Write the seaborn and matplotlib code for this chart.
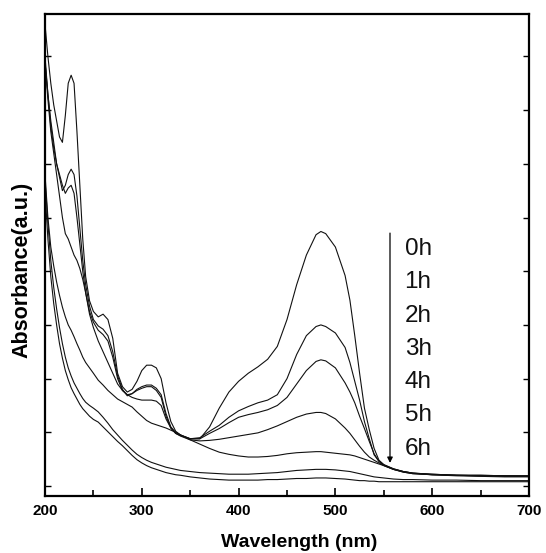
import numpy as np
import pandas as pd
import matplotlib
matplotlib.use("Agg")
import matplotlib.pyplot as plt
from matplotlib.ticker import MultipleLocator
import seaborn as sns

wavelength = [200, 203, 206, 209, 212, 215, 218, 221, 224, 227, 230, 233, 236, 239, 242, 246,
              250, 255, 260, 265, 270, 275, 280, 285, 290, 295, 300, 305, 310, 315, 320, 325,
              330, 335, 340, 350, 360, 370, 380, 390, 400, 410, 420, 430, 440, 450, 460, 470,
              480, 485, 490, 500, 510, 515, 520, 525, 530, 535, 540, 545, 550, 560, 570, 580,
              600, 625, 650, 675, 700]

abs_0h = [8.6, 8.0, 7.5, 7.1, 6.8, 6.5, 6.4, 6.9, 7.5, 7.65, 7.5, 6.6, 5.6, 4.6, 3.9, 3.45,
          3.25, 3.15, 3.2, 3.1, 2.75, 2.1, 1.85, 1.75, 1.8, 1.95, 2.15, 2.25, 2.25, 2.2, 2.0, 1.55,
          1.2, 1.02, 0.95, 0.88, 0.88, 1.1, 1.45, 1.75, 1.95, 2.1, 2.22, 2.36, 2.6, 3.1, 3.75, 4.3,
          4.68, 4.74, 4.7, 4.45, 3.92, 3.46, 2.8, 2.1, 1.45, 1.05, 0.7, 0.48, 0.4, 0.32, 0.27, 0.24,
          0.22, 0.2, 0.2, 0.19, 0.19]
abs_1h = [7.9, 7.3, 6.8, 6.4, 6.0, 5.75, 5.5, 5.6, 5.8, 5.9, 5.8, 5.4, 4.8, 4.2, 3.75, 3.35,
          3.1, 2.98, 2.92, 2.8, 2.5, 2.05, 1.8, 1.68, 1.72, 1.8, 1.85, 1.88, 1.88, 1.82, 1.7, 1.35,
          1.1, 1.0, 0.95, 0.88, 0.9, 1.02, 1.13, 1.28, 1.4, 1.48, 1.55, 1.6, 1.7, 2.0, 2.45, 2.8,
          2.97, 3.0, 2.97, 2.85, 2.58, 2.3, 1.95, 1.6, 1.2, 0.88, 0.58, 0.46, 0.39, 0.32, 0.27, 0.24,
          0.22, 0.2, 0.2, 0.19, 0.19]
abs_2h = [8.0, 7.3, 6.7, 6.3, 6.0, 5.8, 5.6, 5.45, 5.55, 5.6, 5.45, 5.0, 4.5, 4.0, 3.6, 3.25,
          3.05, 2.9, 2.82, 2.7, 2.4, 2.0, 1.78, 1.7, 1.72, 1.78, 1.82, 1.85, 1.85, 1.78, 1.65, 1.3,
          1.08, 0.98, 0.94, 0.88, 0.88, 0.98, 1.07, 1.18, 1.28, 1.33, 1.37, 1.42, 1.5, 1.65, 1.9, 2.15,
          2.32, 2.35, 2.33, 2.2, 1.92, 1.75, 1.55, 1.3, 1.07, 0.83, 0.6, 0.46, 0.39, 0.31, 0.26, 0.23,
          0.21, 0.2, 0.19, 0.19, 0.18]
abs_3h = [7.9, 7.2, 6.6, 6.2, 5.8, 5.4, 5.0, 4.7, 4.6, 4.45, 4.3, 4.2, 4.05, 3.85, 3.6, 3.2,
          2.95, 2.7, 2.5, 2.3, 2.1, 1.9, 1.78, 1.7, 1.65, 1.62, 1.6, 1.6, 1.6, 1.58, 1.5, 1.25,
          1.08, 0.98, 0.93, 0.86, 0.84, 0.85, 0.87, 0.9, 0.93, 0.96, 0.99, 1.05, 1.12, 1.2, 1.28, 1.34,
          1.37, 1.37, 1.35, 1.25, 1.08, 0.98, 0.86, 0.74, 0.63, 0.54, 0.48, 0.43, 0.38, 0.31, 0.26, 0.23,
          0.21, 0.2, 0.19, 0.18, 0.18]
abs_4h = [5.8, 5.0, 4.45, 4.1, 3.8, 3.55, 3.33, 3.15, 3.0, 2.9, 2.78, 2.65, 2.53, 2.4, 2.3, 2.2,
          2.1, 1.97, 1.88, 1.78, 1.7, 1.62, 1.57, 1.52, 1.47, 1.38, 1.3, 1.22, 1.17, 1.14, 1.11, 1.08,
          1.04, 1.0, 0.95, 0.86, 0.78, 0.7, 0.63, 0.59, 0.56, 0.54, 0.54, 0.55, 0.57, 0.6, 0.62, 0.63,
          0.64, 0.64, 0.63, 0.61, 0.59, 0.58, 0.56, 0.53, 0.5, 0.47, 0.44, 0.41, 0.38, 0.31, 0.27, 0.24,
          0.21, 0.19, 0.18, 0.17, 0.17]
abs_5h = [5.7, 4.9, 4.2, 3.7, 3.3, 2.95, 2.65, 2.4, 2.2, 2.05, 1.92, 1.82, 1.72, 1.63, 1.56, 1.5,
          1.45, 1.38, 1.28, 1.17, 1.05, 0.95, 0.85, 0.76, 0.67, 0.59, 0.53, 0.48, 0.44, 0.41, 0.38, 0.35,
          0.33, 0.31, 0.29, 0.27, 0.25, 0.24, 0.23, 0.22, 0.22, 0.22, 0.23, 0.24, 0.25, 0.27, 0.29, 0.3,
          0.31, 0.31, 0.31, 0.3, 0.28, 0.27, 0.25, 0.23, 0.21, 0.19, 0.17, 0.16, 0.15, 0.13, 0.12, 0.12,
          0.11, 0.11, 0.1, 0.1, 0.1]
abs_6h = [5.5, 4.6, 3.9, 3.4, 3.0, 2.65, 2.38, 2.15, 1.98, 1.83, 1.72, 1.62, 1.52, 1.44, 1.38, 1.3,
          1.24, 1.19, 1.1, 1.01, 0.92, 0.83, 0.75, 0.66, 0.57, 0.49, 0.43, 0.38, 0.34, 0.31, 0.28, 0.25,
          0.23, 0.21, 0.2, 0.17, 0.15, 0.13, 0.12, 0.11, 0.11, 0.11, 0.11, 0.12, 0.12, 0.13, 0.14, 0.14,
          0.15, 0.15, 0.15, 0.14, 0.13, 0.12, 0.11, 0.1, 0.1, 0.09, 0.09, 0.08, 0.08, 0.08, 0.08, 0.08,
          0.08, 0.08, 0.08, 0.08, 0.08]

times = ["0h", "1h", "2h", "3h", "4h", "5h", "6h"]
series = [abs_0h, abs_1h, abs_2h, abs_3h, abs_4h, abs_5h, abs_6h]

frames = [pd.DataFrame({"Wavelength": wavelength, "Absorbance": s, "time": t})
          for t, s in zip(times, series)]
df = pd.concat(frames, ignore_index=True)

sns.set_style("ticks")
plt.rcParams["font.family"] = ["Liberation Sans", "DejaVu Sans"]
plt.rcParams["text.color"] = "black"
plt.rcParams["axes.labelcolor"] = "black"
plt.rcParams["xtick.color"] = "black"
plt.rcParams["ytick.color"] = "black"

fig = plt.figure(figsize=(5.46, 5.53), dpi=100)
ax = fig.add_axes([45 / 546, 57 / 553, 484 / 546, 482 / 553])

sns.lineplot(data=df, x="Wavelength", y="Absorbance", hue="time",
             palette=["#111111"] * len(times), linewidth=0.8, legend=False,
             ax=ax, sort=False)

ax.set_xlim(200, 700)
ax.set_ylim(-0.186, 8.79)
ax.xaxis.set_major_locator(MultipleLocator(100))
ax.xaxis.set_minor_locator(MultipleLocator(50))
ax.yaxis.set_major_locator(MultipleLocator(1))
ax.set_yticklabels([])
ax.tick_params(axis="x", which="major", direction="in", length=6, width=1.2,
               labelsize=11, pad=6, top=False, colors="black")
ax.tick_params(axis="x", which="minor", direction="in", length=4, width=1.2, top=False,
               colors="black")
ax.tick_params(axis="y", which="major", direction="in", length=4, width=1.0,
               left=True, right=True, labelleft=False, colors="black")
for lab in ax.get_xticklabels():
    lab.set_fontweight("bold")
for sp in ax.spines.values():
    sp.set_linewidth(1.6)
    sp.set_color("black")
    sp.set_visible(True)

ax.set_xlabel("Wavelength (nm)", fontsize=14, fontweight="bold", color="black")
ax.set_ylabel("Absorbance(a.u.)", fontsize=15.5, fontweight="bold", color="black")
ax.xaxis.set_label_coords(0.525, -0.079)
ax.yaxis.set_label_coords(-0.026, 0.469)

# arrow and time labels
ax.annotate("", xy=(556.4, 0.43), xytext=(556.4, 4.71),
            arrowprops=dict(arrowstyle="-|>", color="black", lw=0.9,
                            mutation_scale=8, shrinkA=0, shrinkB=0))
label_y = [4.41, 3.79, 3.175, 2.55, 1.93, 1.315, 0.685]
for t, yv in zip(times, label_y):
    ax.text(571.5, yv, t, fontsize=17.5, va="center", ha="left", color="#111111")

fig.savefig("out.png", dpi=100)
